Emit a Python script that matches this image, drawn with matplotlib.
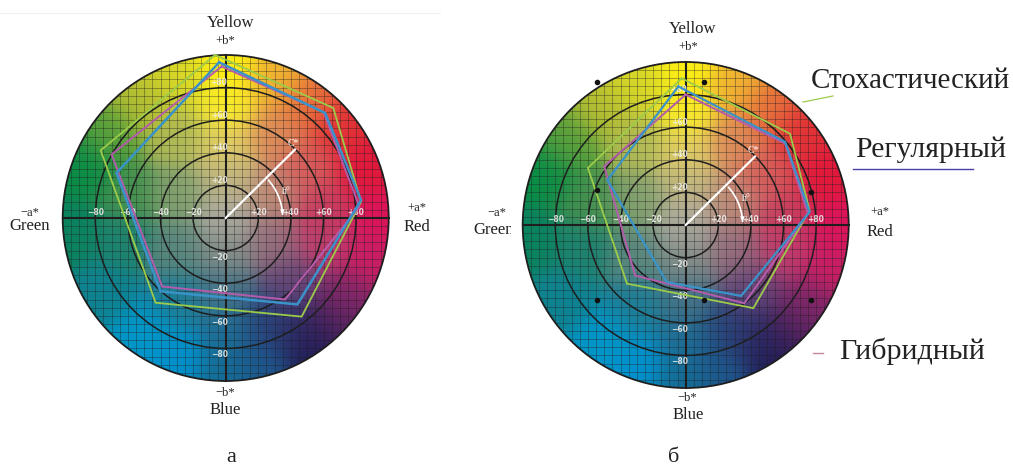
import numpy as np
import matplotlib
matplotlib.use('Agg')
import matplotlib.pyplot as plt
from matplotlib.patches import Circle, Arc
from matplotlib.transforms import Bbox

W, H = 1013, 468
px_per_unit = 1.63
serif = ['Liberation Serif', 'DejaVu Serif']

# a*, b* of the three polygons, panel a
a_sto = [-6.5, 66, 83, 46.6, -43, -76.7]
b_sto = [100, 67.5, 10, -60.5, -52, 41.5]
a_reg = [-4, 61, 83, 44, -40, -67]
b_reg = [95.5, 64.4, 11, -53, -45, 27.6]
a_hyb = [-2.5, 60, 82, 36.4, -39, -70]
b_hyb = [93, 65, 7, -50, -42, 39]

# panel b
a2_sto = [-2.5, 64, 76, 41.5, -36, -60]
b2_sto = [90, 56, 9, -51, -36, 35]
a2_reg = [-4.5, 61, 76, 34, -11.7, -48]
b2_reg = [85, 51, 8, -43.5, -35, 27.6]
a2_hyb = [0, 61, 75, 36, -31, -50]
b2_hyb = [80, 50, 7, -48, -31, 36]

# black measuring dots, panel b
dots_a = [-54.6, 11.5, -54.6, 77, -54.6, 11.5, 77]
dots_b = [88, 88, 21.5, 20, -46, -46, -46]

rings = [20, 40, 60, 80]
tick_vals = [-80, -60, -40, -20, 20, 40, 60, 80]

col_sto = '#9ccb4a'
col_reg = '#3a93c8'
col_hyb = '#b45cac'

# colour anchors of the gamut background: a, b, r, g, b
anchors = np.array([
    [0, 0, 175, 172, 160], [0, 25, 190, 180, 130], [0, 45, 225, 205, 100],
    [0, 70, 250, 235, 40], [0, 95, 252, 238, 20], [-30, 85, 215, 215, 40],
    [-50, 70, 180, 190, 50], [-30, 50, 175, 185, 85], [-70, 50, 90, 160, 60],
    [-85, 30, 10, 140, 70], [-60, 15, 70, 145, 80], [-30, 15, 130, 160, 110],
    [30, 85, 240, 180, 50], [50, 70, 230, 110, 60], [70, 55, 225, 50, 55],
    [30, 50, 220, 140, 90], [50, 30, 215, 90, 90], [85, 30, 225, 25, 60],
    [30, 15, 190, 140, 120], [60, 5, 200, 60, 95], [95, 0, 220, 20, 90],
    [30, -15, 150, 110, 125], [60, -15, 190, 60, 110], [90, -25, 200, 30, 100],
    [40, -40, 100, 70, 120], [75, -50, 130, 40, 105], [54, -79, 30, 28, 85],
    [42, -68, 50, 45, 105], [66, -66, 80, 35, 95],
    [25, -65, 40, 70, 125], [20, -90, 30, 85, 140], [0, -20, 130, 140, 135],
    [0, -45, 70, 115, 135], [0, -70, 30, 110, 150], [0, -95, 20, 110, 150],
    [-30, -85, 0, 145, 205], [-50, -70, 0, 150, 200], [-30, -50, 30, 125, 150],
    [-75, -45, 15, 130, 145], [-30, -20, 90, 135, 125], [-65, -15, 30, 130, 110],
    [-95, -10, 10, 130, 95],
], dtype=float)


def background():
    g = np.linspace(-100, 100, 300)
    xx, yy = np.meshgrid(g, g)
    d2 = (xx[..., None] - anchors[:, 0])**2 + (yy[..., None] - anchors[:, 1])**2
    w = np.exp(-d2 / (2 * 11.0**2)) + 1e-12
    img = (w[..., None] * anchors[:, 2:]).sum(axis=2) / w.sum(axis=2, keepdims=True)
    return img / 255


fig = plt.figure(figsize=(W / 100, H / 100), dpi=100)
bg = background()


def panel(cx, cy, series, dots=None):
    ax = fig.add_axes([0, 0, 1, 1])
    ax.axis('off')
    ax.patch.set_alpha(0)

    clip = Circle((0, 0), 100, transform=ax.transData)
    im = ax.imshow(bg, extent=(-100, 100, -100, 100), origin='lower',
                   interpolation='bilinear', aspect='auto', zorder=1)
    ax.set_xlim(-cx / px_per_unit, (W - cx) / px_per_unit)
    ax.set_ylim(-(H - cy) / px_per_unit, cy / px_per_unit)
    im.set_clip_path(clip)

    for v in np.arange(-95, 100, 5):
        for ln in (ax.plot([v, v], [-100, 100], color='#1c1c1c', lw=0.6, alpha=0.42, zorder=2)
                   + ax.plot([-100, 100], [v, v], color='#1c1c1c', lw=0.6, alpha=0.42, zorder=2)):
            ln.set_clip_path(clip)

    for r in rings:
        ax.add_patch(Circle((0, 0), r, fill=False, ec='#1e1e1e', lw=1.1, zorder=3))
    ax.add_patch(Circle((0, 0), 100, fill=False, ec='#1e1e1e', lw=1.3, zorder=3))
    ax.plot([-100, 100], [0, 0], color='#1e1e1e', lw=1.5, zorder=3)
    ax.plot([0, 0], [-100, 100], color='#1e1e1e', lw=1.5, zorder=3)

    for v in tick_vals:
        lab = f'{v:+d}'.replace('-', '−')
        ax.text(v, 3.5, lab, color='#f2f2ee', fontsize=5.5, fontweight='bold', alpha=0.85,
                ha='center', va='center', family='DejaVu Sans', zorder=4)
        ax.text(-4, v + (3 if v > 0 else -4), lab, color='#f2f2ee', fontsize=5.5, fontweight='bold',
                alpha=0.85, ha='center', va='center', family='DejaVu Sans', zorder=4)

    # chroma and hue marks
    ax.plot([0, 42.5], [0, 42], color='white', lw=1.6, zorder=4)
    ax.text(41.5, 46, 'C*', color='white', fontsize=7, ha='center', va='center', family=serif, zorder=4)
    ax.add_patch(Arc((0, 0), 70, 70, theta1=3, theta2=42, ec='white', lw=1.2, zorder=4))
    ax.annotate('', xy=(34.8, 0.5), xytext=(34.8, 6), zorder=4,
                arrowprops=dict(arrowstyle='-|>', color='white', lw=0.8, mutation_scale=6))
    ax.text(37, 16, 'h°', color='white', fontsize=7, ha='center', va='center', family=serif, zorder=4)

    for (a, b, col, lw) in series:
        ax.plot(a + a[:1], b + b[:1], color=col, lw=lw, zorder=5, solid_joinstyle='miter')

    if dots is not None:
        ax.plot(dots[0], dots[1], 'o', color='#111111', ms=3, zorder=6)
    return ax


panel(225.7, 218, [(a_sto, b_sto, col_sto, 1.3),
                   (a_hyb, b_hyb, col_hyb, 1.4),
                   (a_reg, b_reg, col_reg, 1.8)])
panel(685.7, 225, [(a2_sto, b2_sto, col_sto, 1.3),
                   (a2_hyb, b2_hyb, col_hyb, 1.4),
                   (a2_reg, b2_reg, col_reg, 1.6)],
      dots=(dots_a, dots_b))


def txt(x, y, s, size, **kw):
    return fig.text(x / W, 1 - y / H, s, fontsize=size, family=serif, color='#222222',
                    ha='center', va='center', **kw)


for (x, y, s, size) in [(231, 23, 'Yellow', 12), (225, 41, '+b*', 9),
                        (225, 393, '−b*', 9), (225, 410, 'Blue', 12),
                        (30, 213, '−a*', 9), (30, 226, 'Green', 12),
                        (417, 208, '+a*', 9), (417, 227, 'Red', 12),
                        (693, 29, 'Yellow', 12), (688, 47, '+b*', 9),
                        (687, 398, '−b*', 9), (688, 415, 'Blue', 12),
                        (497, 213, '−a*', 9),
                        (880, 212, '+a*', 9), (880, 232, 'Red', 12),
                        (231, 458, 'а', 16), (674, 457, 'б', 16),
                        (910, 81, 'Стохастический', 20.9),
                        (931, 150, 'Регулярный', 21.5),
                        (912, 351, 'Гибридный', 21.6)]:
    txt(x, y, s, size)

# the last letter of this label is cut off in the reference
green_txt = txt(494, 230, 'Green', 12)
green_txt.set_clip_box(Bbox([[440, 0], [511, H]]))
green_txt.set_clip_on(True)

overlay = fig.add_axes([0, 0, 1, 1])
overlay.set_xlim(0, W)
overlay.set_ylim(H, 0)
overlay.axis('off')
overlay.patch.set_alpha(0)
overlay.plot([0, 440], [13, 13], color='#efefef', lw=0.8)
overlay.plot([803, 833], [102, 96], color=col_sto, lw=0.9)
overlay.plot([853, 973], [169, 169], color='#4a40a8', lw=1.0)
overlay.plot([813, 823], [353, 353], color='#c08a9a', lw=1.0)

fig.savefig('out.png', dpi=100)
